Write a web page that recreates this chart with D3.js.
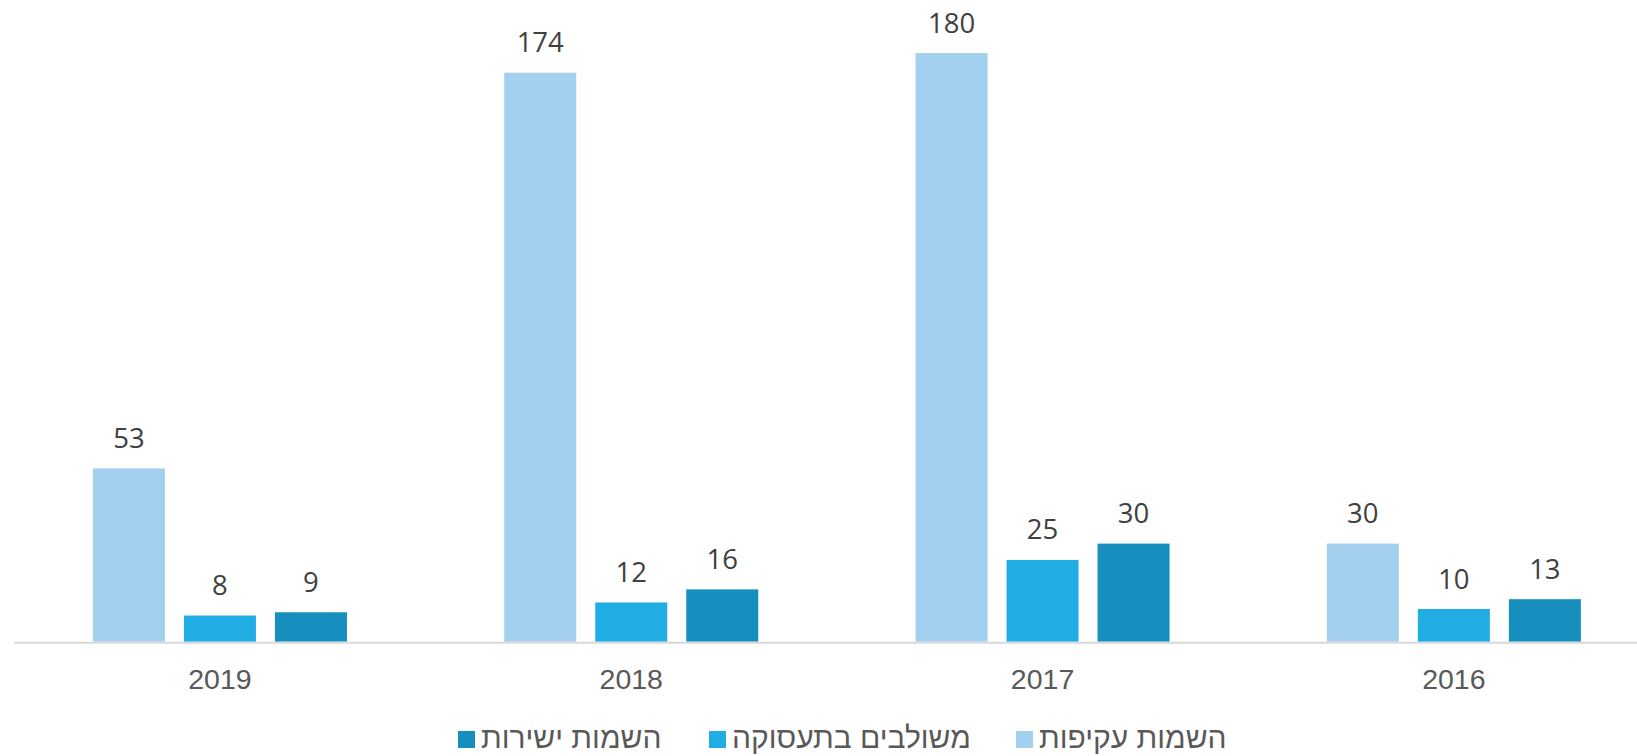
<!DOCTYPE html>
<html lang="he">
<head>
<meta charset="utf-8">
<script src="https://cdn.jsdelivr.net/npm/d3@7"></script>
<style>
  html, body { margin: 0; padding: 0; background: #fff; }
  svg { display: block; }
</style>
</head>
<body>
<svg id="chart" width="1637" height="756"></svg>
<script>
// Years, left to right
const years = ["2019", "2018", "2017", "2016"];
// Series keys and legend names
const seriesKeys = ["indirect", "combined", "direct"];
const seriesNames = ["השמות עקיפות", "משולבים בתעסוקה", "השמות ישירות"];
const seriesColors = ["#A3D0EE", "#1FADE4", "#168FBE"];
// Values per year, same order as years
const indirect = [53, 174, 180, 30];
const combined = [8, 12, 25, 10];
const direct = [9, 16, 30, 13];

const valuesByKey = { indirect, combined, direct };
const rows = years.map((y, i) => ({
  year: y,
  values: seriesKeys.map(k => ({ key: k, value: valuesByKey[k][i] }))
}));

const svg = d3.select("#chart");
const baseline = 641.7;

const x0 = d3.scaleBand().domain(years).range([14.3, 1659.5]).paddingInner(0).paddingOuter(0);
const x1 = d3.scaleBand().domain(seriesKeys).range([0, x0.bandwidth()])
  .paddingInner(0.209).paddingOuter(0.864);
const y = d3.scaleLinear().domain([0, 200]).range([baseline, baseline - 654]);
const color = d3.scaleOrdinal().domain(seriesKeys).range(seriesColors);

const groups = svg.append("g").selectAll("g")
  .data(rows).join("g")
  .attr("transform", d => `translate(${x0(d.year)},0)`);

groups.selectAll("rect")
  .data(d => d.values).join("rect")
  .attr("x", d => x1(d.key))
  .attr("width", x1.bandwidth())
  .attr("y", d => y(d.value))
  .attr("height", d => y(0) - y(d.value))
  .attr("fill", d => color(d.key));

groups.selectAll("text.val")
  .data(d => d.values).join("text")
  .attr("class", "val")
  .attr("x", d => x1(d.key) + x1.bandwidth() / 2)
  .attr("y", d => y(d.value) - 20.5)
  .attr("text-anchor", "middle")
  .attr("font-family", "'Open Sans', sans-serif")
  .attr("font-size", 27.5)
  .attr("fill", "#404040")
  .text(d => d.value);

// Category axis
const axis = svg.append("g").attr("transform", `translate(0,${baseline + 1})`)
  .call(d3.axisBottom(x0).tickSize(0).tickPadding(0));
axis.select(".domain").attr("stroke", "#D9D9D9").attr("stroke-width", 2)
  .attr("d", "M14,0H1637");
axis.selectAll(".tick text")
  .attr("y", 46)
  .attr("dy", 0)
  .attr("font-family", "'Liberation Sans', Arial, sans-serif")
  .attr("font-size", 28.5)
  .attr("fill", "#595959");

// Legend
const legendOrder = [2, 1, 0];
const legendX = [458, 709, 1016];
const legend = svg.append("g");
legendOrder.forEach((si, j) => {
  const g = legend.append("g").attr("transform", `translate(${legendX[j]},731)`);
  g.append("rect").attr("width", 17).attr("height", 17).attr("fill", seriesColors[si]);
  g.append("text")
    .attr("x", 23)
    .attr("y", 17)
    .attr("direction", "rtl")
    .attr("text-anchor", "end")
    .attr("font-family", "'Liberation Sans', Arial, sans-serif")
    .attr("font-size", 30)
    .attr("fill", "#595959")
    .text(seriesNames[si]);
});
</script>
</body>
</html>
